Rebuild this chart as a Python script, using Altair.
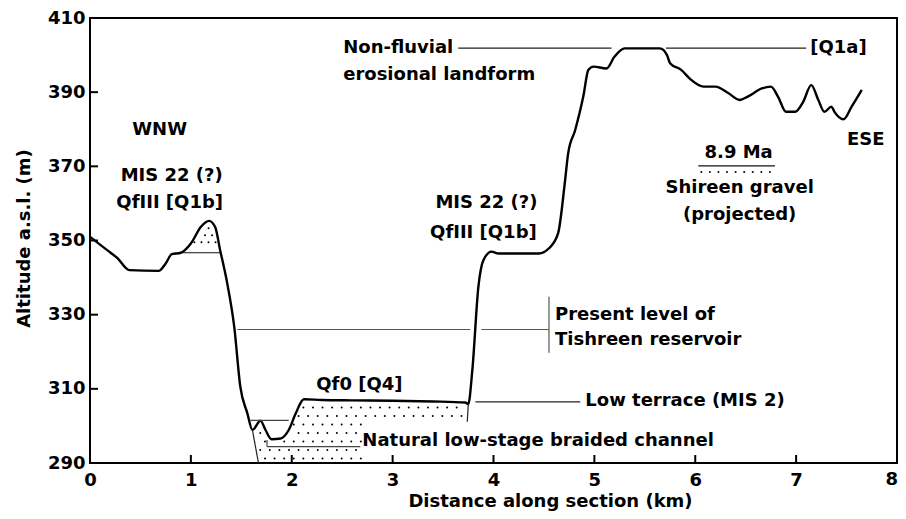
import altair as alt
import pandas as pd
import numpy as np

# ---------------- data ----------------
dist_km = [0.00, 0.17, 0.27, 0.39, 0.68, 0.75, 0.81, 0.90, 1.00, 1.10, 1.18, 1.24, 1.29,
           1.36, 1.43, 1.49, 1.56, 1.61, 1.69, 1.74, 1.80, 1.89, 1.97, 2.04, 2.12, 2.30,
           2.60, 3.00, 3.40, 3.72, 3.75, 3.79, 3.85, 3.90, 3.98, 4.05, 4.45, 4.55, 4.64,
           4.71, 4.74, 4.81, 4.89, 4.94, 4.99, 5.12, 5.20, 5.30, 5.65, 5.72, 5.75, 5.86,
           5.96, 6.08, 6.20, 6.33, 6.44, 6.52, 6.66, 6.75, 6.82, 6.90, 6.99, 7.07, 7.15,
           7.22, 7.28, 7.35, 7.38, 7.47, 7.55, 7.65]
altitude = [351.0, 347.4, 345.3, 342.0, 341.8, 343.8, 346.3, 346.7, 349.2, 353.7, 355.3, 353.7, 347.4,
            338.5, 326.7, 310.6, 303.4, 298.9, 301.4, 298.9, 296.4, 296.6, 298.9, 303.4, 307.2, 307.0,
            306.9, 306.8, 306.6, 306.3, 305.9, 315.0, 337.5, 344.7, 347.0, 346.5, 346.5, 347.9, 351.9,
            366.3, 373.5, 379.8, 388.8, 396.0, 396.9, 396.4, 399.6, 401.8, 401.8, 400.0, 397.8, 396.0,
            393.3, 391.5, 391.5, 389.7, 387.9, 388.8, 391.0, 391.5, 388.8, 384.7, 384.7, 387.4, 391.9,
            387.9, 384.7, 386.1, 384.7, 382.7, 386.1, 390.6]

x_ticks = [0, 1, 2, 3, 4, 5, 6, 7, 8]
y_ticks = [290, 310, 330, 350, 370, 390, 410]
last_x_label = ["8"]

# annotation segments (km, m)
seg_x1 = [1.46, 3.88, 4.55, 3.82, 3.65, 5.71, 0.90, 1.59, 1.755, 1.755, 1.61, 3.75, 6.03]
seg_x2 = [3.77, 4.55, 4.55, 4.86, 5.17, 7.10, 1.29, 1.97, 1.755, 2.68, 1.67, 3.74, 6.79]
seg_y1 = [326.0, 326.0, 334.8, 306.5, 401.9, 401.9, 346.7, 301.5, 296.2, 294.4, 298.9, 305.9, 370.1]
seg_y2 = [326.0, 326.0, 319.7, 306.5, 401.9, 401.9, 346.7, 301.5, 294.4, 294.4, 290.0, 301.1, 370.1]
seg_col = ["#555555", "#555555", "#555555", "#222222", "#222222", "#222222", "#111111",
           "#444444", "#444444", "#444444", "#222222", "#222222", "#111111"]

center_text = ["WNW", "MIS 22 (?)", "QfIII [Q1b]", "MIS 22 (?)", "QfIII [Q1b]", "Qf0 [Q4]",
               "ESE", "8.9 Ma", "Shireen gravel", "(projected)"]
center_x = [0.69, 0.81, 0.79, 3.93, 3.90, 2.67, 7.69, 6.43, 6.44, 6.44]
center_y = [379.8, 367.4, 360.1, 360.1, 352.0, 311.0, 377.1, 373.6, 364.2, 356.9]

left_text = ["Present level of", "Tishreen reservoir", "Low terrace (MIS 2)",
             "Natural low-stage braided channel", "Non-fluvial", "erosional landform", "[Q1a]"]
left_x = [4.61, 4.61, 4.91, 2.70, 2.51, 2.51, 7.14]
left_y = [329.9, 323.2, 306.7, 295.9, 401.9, 394.6, 401.9]

# ---------------- stipple (gravel texture) ----------------
def profile(x):
    return np.interp(x, dist_km, altitude)

def stipple(x0, x1, a0, a1, dx, da, inside):
    pts = []
    row = 0
    a = a0
    while a < a1:
        x = x0 + (dx / 2.0) * (row % 2)
        while x < x1:
            if inside(x, a):
                pts.append((x, a))
            x += dx
        a += da
        row += 1
    return pts

def in_peak(x, a):
    return a > 347.6 and a < profile(x) - 1.2

def in_low(x, a):
    xl = 1.67 - (a - 290.0) / 8.9 * 0.06
    return (x > xl + 0.03 and x < 3.71 and a > 290.8 and a < profile(x) - 1.2
            and (a > 301.6 or x < 2.72))

dots = stipple(0.93, 1.28, 347.6, 356, 0.07, 1.9, in_peak) + \
       stipple(1.64, 3.72, 291.2, 308, 0.095, 2.3, in_low)
dots += [(v, 368.5) for v in np.arange(6.06, 6.75, 0.085)]
dots_df = pd.DataFrame(dots, columns=["x", "y"])

# ---------------- chart ----------------
FONT = "DejaVu Sans"
xs = alt.Scale(domain=[0, 8], nice=False, zero=False)
ys = alt.Scale(domain=[290, 410], nice=False, zero=False)

prof_df = pd.DataFrame({"x": dist_km, "y": altitude})
seg_df = pd.DataFrame({"x": seg_x1, "x2": seg_x2, "y": seg_y1, "y2": seg_y2, "c": seg_col})
ctext_df = pd.DataFrame({"x": center_x, "y": center_y, "t": center_text})
ltext_df = pd.DataFrame({"x": left_x, "y": left_y, "t": left_text})
xt_df = pd.DataFrame({"x": x_ticks})
yt_df = pd.DataFrame({"y": y_ticks})
last_df = pd.DataFrame({"x": [x_ticks[-1]], "t": last_x_label})

x_axis = alt.Axis(values=x_ticks, title="Distance along section (km)", grid=False, domain=False,
                  ticks=False, tickSize=0, labelFont=FONT, labelFontWeight="bold", labelFontSize=18,
                  labelColor="black", labelPadding=17, labelBaseline="middle", labelFlush=False,
                  labelOverlap=False, labelExpr="datum.value == 8 ? '' : datum.label",
                  titleFont=FONT, titleFontWeight="bold", titleFontSize=18,
                  titleColor="black", titleX=460, titleY=38, titleBaseline="middle", titleAlign="center")
y_axis = alt.Axis(values=y_ticks, title="Altitude a.s.l. (m)", grid=False, domain=False,
                  ticks=False, tickSize=0, labelFont=FONT, labelFontWeight="bold", labelFontSize=18,
                  labelColor="black", labelPadding=5, labelFlush=False, labelOverlap=False,
                  titleFont=FONT, titleFontWeight="bold", titleFontSize=18, titleColor="black",
                  titleX=-66, titleY=220, titleAngle=270, titleBaseline="middle", titleAlign="center")

X = lambda f="x": alt.X(f"{f}:Q", scale=xs, axis=x_axis)
Y = lambda f="y": alt.Y(f"{f}:Q", scale=ys, axis=y_axis)

line = alt.Chart(prof_df).mark_line(color="black", strokeWidth=2.4, interpolate="monotone").encode(
    x=X(), y=Y())

segs = alt.Chart(seg_df).mark_rule(strokeWidth=1.2).encode(
    x=X(), x2="x2:Q", y=Y(), y2="y2:Q", color=alt.Color("c:N", scale=None))

dotl = alt.Chart(dots_df).mark_circle(size=4, color="black", opacity=1).encode(x=X(), y=Y())

ctext = alt.Chart(ctext_df).mark_text(font=FONT, fontWeight="bold", fontSize=18, color="black",
                                      align="center", baseline="middle").encode(
    x=X(), y=Y(), text="t:N")

ltext = alt.Chart(ltext_df).mark_text(font=FONT, fontWeight="bold", fontSize=18, color="black",
                                      align="left", baseline="middle").encode(
    x=X(), y=Y(), text="t:N")

last_lab = alt.Chart(last_df).mark_text(font=FONT, fontWeight="bold", fontSize=18, color="black",
                                        align="right", baseline="middle", dx=1, dy=17).encode(
    x=X(), y=alt.value(445), text="t:N")

xtick = alt.Chart(xt_df).mark_rule(color="black", strokeWidth=2).encode(
    x=X(), y=alt.value(445), y2=alt.value(437))
ytick = alt.Chart(yt_df).mark_rule(color="black", strokeWidth=2).encode(
    y=Y(), x=alt.value(0), x2=alt.value(8))

chart = alt.layer(line, dotl, segs, ctext, ltext, last_lab, xtick, ytick).properties(
    width=807, height=445,
    padding={"left": 82, "top": 10, "right": 1, "bottom": 48},
    autosize=alt.AutoSizeParams(type="none"),
    background="white",
).configure_view(stroke="black", strokeWidth=2)

chart.save("out.html", embed_options={"renderer": "svg", "actions": False})
